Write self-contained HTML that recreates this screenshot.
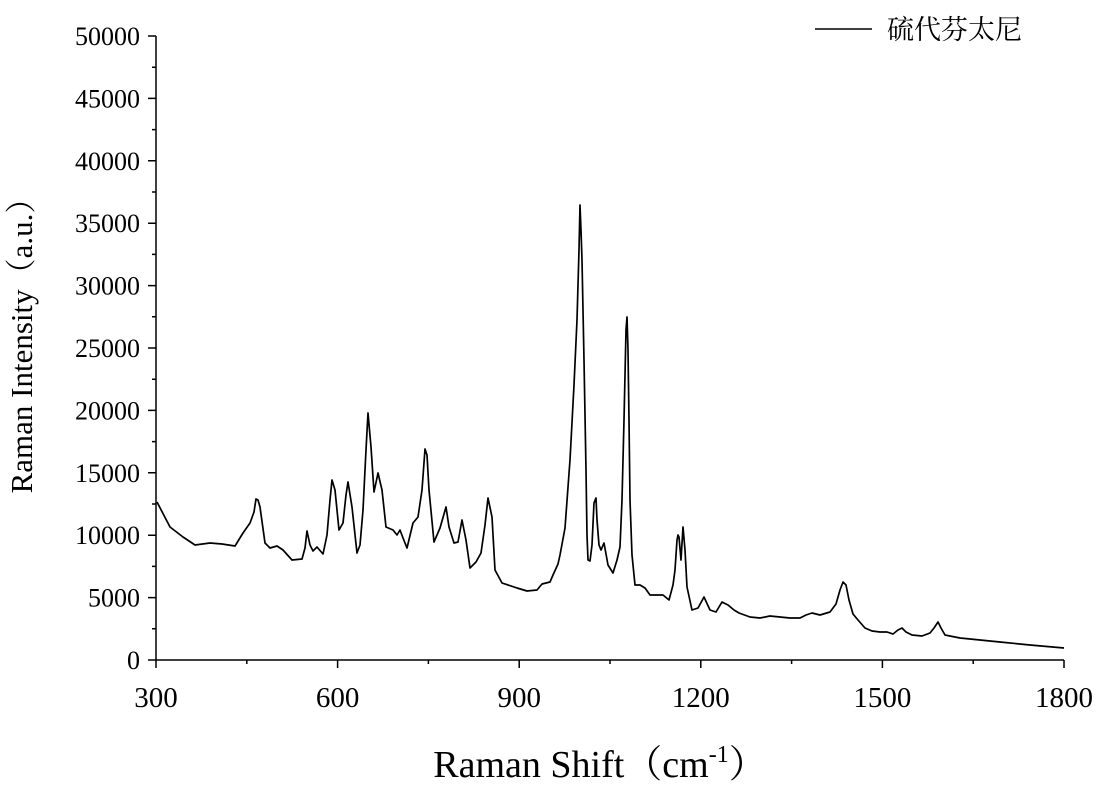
<!DOCTYPE html>
<html><head><meta charset="utf-8"><style>body{margin:0;background:#fff}</style></head><body>
<svg width="1113" height="787" xmlns="http://www.w3.org/2000/svg" font-family="Liberation Serif, Noto Serif CJK SC, serif">
<rect width="1113" height="787" fill="#fff"/>
<g stroke="#000" stroke-width="1.5" fill="none">
<line x1="156" y1="36" x2="156" y2="660"/>
<line x1="156" y1="660" x2="1064" y2="660"/>
<path d="M148 660H156M148 597.6H156M148 535.2H156M148 472.8H156M148 410.4H156M148 348H156M148 285.6H156M148 223.2H156M148 160.8H156M148 98.4H156M148 36H156"/>
<path d="M152 628.8H156M152 566.4H156M152 504H156M152 441.6H156M152 379.2H156M152 316.8H156M152 254.4H156M152 192H156M152 129.6H156M152 67.2H156"/>
<path d="M156 660V668M337.6 660V668M519.2 660V668M700.8 660V668M882.4 660V668M1064 660V668"/>
<path d="M246.8 660V664M428.4 660V664M610 660V664M791.6 660V664M973.2 660V664"/>
</g>
<g font-size="26" text-anchor="end">
<text x="140" y="669">0</text><text x="140" y="606.6">5000</text><text x="140" y="544.2">10000</text><text x="140" y="481.8">15000</text><text x="140" y="419.4">20000</text><text x="140" y="357">25000</text><text x="140" y="294.6">30000</text><text x="140" y="232.2">35000</text><text x="140" y="169.8">40000</text><text x="140" y="107.4">45000</text><text x="140" y="45">50000</text>
</g>
<g font-size="29" text-anchor="middle">
<text x="156" y="707">300</text><text x="337.6" y="707">600</text><text x="519.2" y="707">900</text><text x="700.8" y="707">1200</text><text x="882.4" y="707">1500</text><text x="1064" y="707">1800</text>
</g>
<text x="600" y="777" font-size="38" text-anchor="middle">Raman Shift（cm<tspan font-size="24" dy="-15">-1</tspan><tspan dy="15">）</tspan></text>
<text transform="translate(32,338) rotate(-90)" font-size="31" text-anchor="middle">Raman Intensity（a.u.）</text>
<line x1="815" y1="29" x2="872" y2="29" stroke="#000" stroke-width="1.5"/>
<text x="887" y="39" font-size="27" font-family="Noto Serif CJK SC, serif">硫代芬太尼</text>
<polyline fill="none" stroke="#000" stroke-width="1.7" stroke-linejoin="round" points="157,502 170,527 183,537 195,545 210,543 222,544 235,546 243,533 250,523 254,512 256,499 258,500 260,507 265,543 270,548 277,546 283,550 292,560 302,559 305,548 307,531 310,545 313,551 317,547 323,554 327,535 330,500 332,480 335,490 339,530 343,523 346,495 348,482 352,507 357,553 360,545 363,510 366,450 368,413 371,447 374,492 378,473 382,490 386,527 393,530 397,535 400,530 403,538 407,548 413,523 418,517 422,490 425,449 427,455 429,490 434,542 440,528 446,507 449,527 454,543 458,542 462,520 466,540 470,568 476,562 481,553 485,525 488,498 492,517 495,570 502,583 517,588 527,591 537,590 542,584 550,582 553,575 558,564 560,555 565,528 570,460 574,385 577,320 579,250 580,205 581,230 582,260 584,360 586,470 587,535 588,560 590,561 592,545 594,503 596,498 597,520 599,545 601,550 604,543 608,565 613,573 617,560 620,547 622,500 624,420 626,330 627,317 628,350 629,420 630,500 632,555 635,585 640,585 645,588 650,595 663,595 669,600 673,585 675,570 677,540 678,535 679,537 681,560 683,527 685,550 687,587 692,610 698,608 704,597 710,610 716,612 722,602 728,605 734,610 739,613 750,617 760,618 770,616 780,617 790,618 800,618 806,615 812,613 820,615 830,612 836,604 840,590 843,582 846,585 849,600 853,614 858,620 865,628 872,631 880,632 887,632 893,634 898,630 902,628 906,632 912,635 922,636 930,633 934,628 938,622 941,628 945,635 960,638 1000,642 1030,645 1064,648"/>
</svg>
</body></html>
